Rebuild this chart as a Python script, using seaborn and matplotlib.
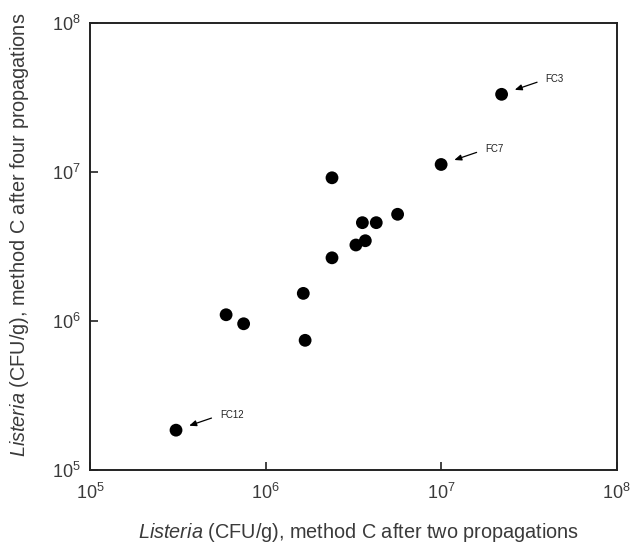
import matplotlib
matplotlib.use("Agg")
import matplotlib.pyplot as plt
import pandas as pd
import seaborn as sns

# Listeria counts (CFU/g)
two_prop = [3.09e5, 5.96e5, 7.5e5, 1.64e6, 1.68e6, 2.39e6, 2.39e6,
            3.27e6, 3.70e6, 3.56e6, 4.27e6, 5.65e6, 1.00e7, 2.21e7]
four_prop = [1.85e5, 1.10e6, 9.57e5, 1.53e6, 7.41e5, 9.12e6, 2.65e6,
             3.23e6, 3.45e6, 4.56e6, 4.56e6, 5.19e6, 1.12e7, 3.31e7]

# labelled samples: name, x, y
labels = ["FC12", "FC7", "FC3"]
label_x = [3.09e5, 1.00e7, 2.21e7]
label_y = [1.85e5, 1.12e7, 3.31e7]

ticks = [1e5, 1e6, 1e7, 1e8]
tick_labels = [r"10$^{5}$", r"10$^{6}$", r"10$^{7}$", r"10$^{8}$"]

df = pd.DataFrame({"two": two_prop, "four": four_prop})

sns.set_style("ticks")
plt.rcParams["font.family"] = ["Liberation Sans", "DejaVu Sans"]
plt.rcParams["mathtext.fontset"] = "custom"
plt.rcParams["mathtext.rm"] = "Liberation Sans"
plt.rcParams["mathtext.it"] = "Liberation Sans:italic"

txt = "#3a3a3a"

fig = plt.figure(figsize=(6.32, 5.45), dpi=100)
ax = fig.add_axes([0.1424, 0.1376, 0.8334, 0.8207])

sns.scatterplot(data=df, x="two", y="four", ax=ax, s=85, color="black",
                edgecolor="none", legend=False)

ax.set_xscale("log")
ax.set_yscale("log")
ax.set_xlim(1e5, 1e8)
ax.set_ylim(1e5, 1e8)
ax.set_xticks(ticks)
ax.set_yticks(ticks)
ax.set_xticklabels(tick_labels)
ax.set_yticklabels(tick_labels)
ax.minorticks_off()
ax.tick_params(direction="in", length=6, width=1.2, color="#222222",
               labelsize=13, labelcolor=txt)
ax.tick_params(axis="x", pad=9)
ax.tick_params(axis="y", pad=7)
for sp in ax.spines.values():
    sp.set_visible(True)
    sp.set_linewidth(1.4)
    sp.set_color("#222222")

ax.set_xlabel(r"$\it{Listeria}$ (CFU/g), method C after two propagations",
              fontsize=14.3, color=txt)
ax.set_ylabel(r"$\it{Listeria}$ (CFU/g), method C after four propagations",
              fontsize=14.3, color=txt)
ax.xaxis.set_label_coords(0.51, -0.113)
ax.yaxis.set_label_coords(-0.112, 0.525)

for name, lx, ly in zip(labels, label_x, label_y):
    ax.annotate(name, xy=(lx, ly), xytext=(44, 15), textcoords="offset pixels",
                ha="left", va="center", fontsize=7, color="#222222",
                arrowprops=dict(arrowstyle="-|>,head_length=0.6,head_width=0.25",
                                color="black", lw=0.9, relpos=(0, 0.5),
                                shrinkA=4, shrinkB=10))

fig.savefig("out.png", dpi=100)
